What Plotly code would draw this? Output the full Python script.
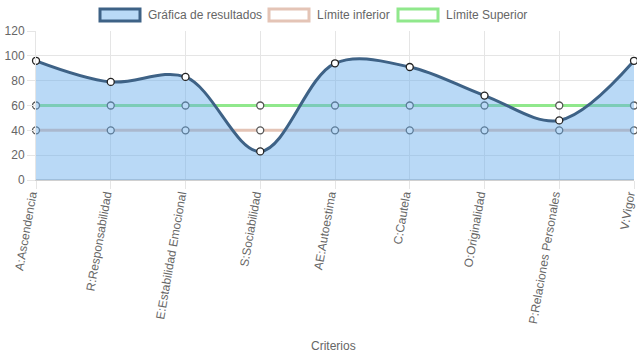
import plotly.graph_objects as go

categories = ["A:Ascendencia", "R:Responsabilidad", "E:Estabilidad Emocional", "S:Sociabilidad",
              "AE:Autoestima", "C:Cautela", "O:Originalidad", "P:Relaciones Personales", "V:Vigor"]
resultados = [96, 79, 83, 23, 94, 91, 68, 48, 96]
limite_inferior = [40, 40, 40, 40, 40, 40, 40, 40, 40]
limite_superior = [60, 60, 60, 60, 60, 60, 60, 60, 60]
y_ticks = [0, 20, 40, 60, 80, 100, 120]

FONT = "Liberation Sans, Arial, sans-serif"
GREY = "#666666"
GRID = "#e5e5e5"
MAIN = "rgb(62,98,134)"
FILL = "rgba(100,170,235,0.45)"
LOW = "rgb(228,196,182)"
UP = "rgb(144,232,140)"

W, H = 637, 359
L, R, T, B = 36, 3, 31, 179
PW, PH = W - L - R, H - T - B

def px_x(px):
    return (px - L) / PW

def px_y(py):
    return (H - B - py) / PH

fig = go.Figure()
fig.add_trace(go.Scatter(x=categories, y=limite_inferior, mode="lines+markers", name="Límite inferior",
                         line=dict(color=LOW, width=3), cliponaxis=False,
                         marker=dict(size=7, color="white", line=dict(color="#555", width=1.3))))
fig.add_trace(go.Scatter(x=categories, y=limite_superior, mode="lines+markers", name="Límite Superior",
                         line=dict(color=UP, width=3), cliponaxis=False,
                         marker=dict(size=7, color="white", line=dict(color="#555", width=1.3))))
# fill layer drawn above the limit lines
fig.add_trace(go.Scatter(x=categories, y=resultados, mode="none", fill="tozeroy", fillcolor=FILL,
                         line=dict(shape="spline", smoothing=1.0), showlegend=False, hoverinfo="skip"))
fig.add_trace(go.Scatter(x=categories, y=resultados, mode="lines+markers", name="Gráfica de resultados",
                         line=dict(color=MAIN, width=3, shape="spline", smoothing=1.0), cliponaxis=False,
                         marker=dict(size=7, color="white", line=dict(color="#222", width=1.3))))

fig.update_layout(
    width=W, height=H,
    margin=dict(l=L, r=R, t=T, b=B, autoexpand=False),
    paper_bgcolor="white", plot_bgcolor="white",
    showlegend=False,
    font=dict(family=FONT, size=12, color=GREY),
    xaxis=dict(type="category", range=[0, len(categories) - 1], showgrid=True, gridcolor=GRID,
               tickangle=-80, ticks="outside", ticklen=8, tickcolor=GRID, automargin=False,
               ticklabelstandoff=-6, ticklabelshift=-5,
               showline=True, linecolor="#d0d0d0", linewidth=1,
               tickfont=dict(size=12, color=GREY)),
    yaxis=dict(range=[0, 120], tickvals=y_ticks, showgrid=True, gridcolor=GRID, automargin=False,
               ticks="outside", ticklen=8, tickcolor=GRID, zeroline=True, zerolinecolor="#d0d0d0",
               showline=True, linecolor=GRID, tickfont=dict(size=12, color=GREY)),
)

fig.add_annotation(xref="paper", yref="paper", x=px_x(333), y=px_y(346), text="Criterios",
                   showarrow=False, xanchor="center", yanchor="middle",
                   font=dict(family=FONT, size=12, color=GREY))

# custom legend (Chart.js style boxes)
legend_items = [
    ("Gráfica de resultados", "rgb(185,218,246)", MAIN, 100),
    ("Límite inferior", "white", LOW, 269),
    ("Límite Superior", "white", UP, 398),
]
for text, fc, lc, px in legend_items:
    fig.add_shape(type="rect", xref="paper", yref="paper", x0=px_x(px), x1=px_x(px + 40),
                  y0=px_y(21), y1=px_y(9),
                  fillcolor=fc, line=dict(color=lc, width=3), layer="above")
    fig.add_annotation(xref="paper", yref="paper", x=px_x(px + 46), y=px_y(15),
                       text=text, showarrow=False, xanchor="left", yanchor="middle",
                       font=dict(family=FONT, size=12, color=GREY))

fig.write_html("out.html", config={"displayModeBar": False},
               post_script="document.body.style.margin='0';document.body.style.overflow='hidden';")
